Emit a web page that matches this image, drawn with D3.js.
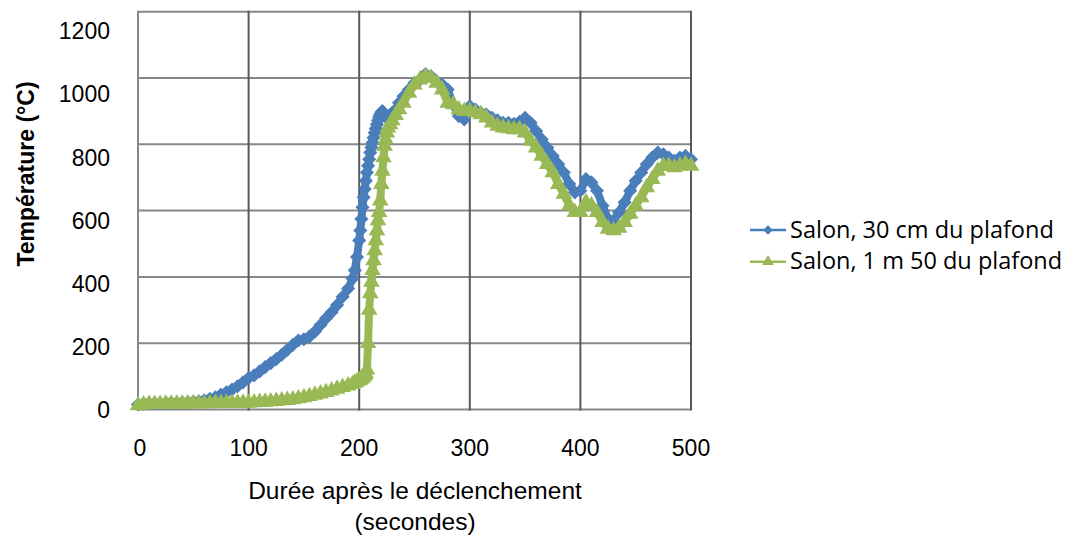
<!DOCTYPE html>
<html>
<head>
<meta charset="utf-8">
<script src="https://cdn.jsdelivr.net/npm/d3@7"></script>
<style>
  body { margin: 0; background: #fff; }
  text { font-family: "Liberation Sans", Arial, sans-serif; fill: #000; }
</style>
</head>
<body>
<svg></svg>
<script>
// Time samples (seconds)
const times = [
    0, 5, 10, 15, 20, 25, 30, 35, 40, 45, 50, 55, 60, 65, 70, 75, 80, 85, 90, 95,
    100, 105, 110, 115, 120, 125, 130, 135, 140, 145, 150, 155, 160, 165, 170, 175, 180, 185, 190,
    194, 196, 198, 200,
    201, 202, 203, 204, 205, 206, 207, 208, 209, 210, 211, 212, 213, 214, 215, 216, 217, 218, 219, 220,
    221, 222, 223, 224, 225, 226,
    228, 230, 233, 236,
    240, 245, 250, 255, 260, 265, 270, 275, 280, 285, 290, 295, 300, 305, 310, 315, 320, 325, 330, 335,
    340, 345, 350, 355, 360, 365, 370, 375, 380, 385, 390, 395, 400, 405, 410, 415, 420, 425, 430, 435,
    440, 445, 450, 455, 460, 465, 470, 475, 480, 485, 490, 495, 500
];

// Salon, 30 cm du plafond (°C)
const salon30 = [
    15, 18, 19, 19, 19, 20, 20, 20, 21, 22, 23, 25, 28, 32, 37, 45, 52, 60, 70, 82,
    95, 103, 115, 128, 140, 152, 165, 180, 195, 208, 212, 220, 235, 255, 275, 293, 315, 340, 365,
    395, 420, 460, 510,
    540, 575, 610, 640, 665, 690, 715, 735, 755, 775, 790, 805, 820, 835, 848, 860, 872, 882, 890, 897,
    900, 895, 888, 882, 885, 880,
    888, 895, 905, 925,
    945, 965, 985, 995, 1012, 1005, 990, 980, 965, 920, 885, 875, 915, 905, 895, 890, 880, 872, 865, 865,
    862, 868, 880, 865, 840, 815, 790, 765, 740, 715, 680, 655, 660, 695, 685, 660, 615, 575, 570, 595,
    625, 660, 690, 715, 740, 760, 775, 770, 760, 750, 760, 765, 755
];

// Salon, 1 m 50 du plafond (°C)
const salon150 = [
    12, 15, 16, 16, 16, 17, 17, 17, 17, 18, 18, 18, 18, 18, 19, 19, 19, 19, 20, 20,
    20, 21, 22, 23, 24, 25, 27, 28, 30, 33, 36, 40, 44, 48, 52, 57, 62, 67, 72,
    76, 80, 84, 88,
    90, 93, 96, 99, 103, 108, 120, 200, 300, 350, 385, 420, 450, 480, 510, 540, 570, 595, 630, 680,
    720, 760, 795, 815, 835, 850,
    860, 872, 888, 905,
    925, 955, 980, 995, 1005, 1000, 985, 965, 925, 920, 905, 900, 900, 895, 890, 880, 865, 855, 850, 848,
    845, 845, 835, 810, 790, 765, 740, 715, 680, 650, 615, 595, 595, 625, 615, 595, 565, 545, 540, 548,
    565, 590, 615, 640, 670, 695, 720, 735, 735, 730, 735, 740, 735
];

const xTicks = [0, 100, 200, 300, 400, 500];
const yTicks = [0, 200, 400, 600, 800, 1000, 1200];
const seriesNames = ["Salon, 30 cm du plafond", "Salon, 1 m 50 du plafond"];

const width = 1070, height = 541;
const plot = { left: 138, right: 691, top: 11.7, bottom: 409.5 };

const svg = d3.select("svg").attr("width", width).attr("height", height);

const x = d3.scaleLinear().domain([0, 500]).range([plot.left, plot.right]);
const y = d3.scaleLinear().domain([0, 1200]).range([plot.bottom, plot.top]);
// value labels on the y axis sit on a slightly compressed spacing in the original
const yLabel = d3.scaleLinear().domain([0, 1200]).range([410, 31]);

// horizontal gridlines (lighter)
svg.append("g").selectAll("line")
    .data(yTicks)
    .enter().append("line")
    .attr("x1", plot.left).attr("x2", plot.right)
    .attr("y1", d => y(d)).attr("y2", d => y(d))
    .attr("stroke", "#878787").attr("stroke-width", 2);

// vertical gridlines (darker), left edge lighter
svg.append("g").selectAll("line")
    .data(xTicks)
    .enter().append("line")
    .attr("x1", d => x(d)).attr("x2", d => x(d))
    .attr("y1", plot.top - 1).attr("y2", plot.bottom + 1)
    .attr("stroke", d => d === 0 ? "#878787" : "#595959")
    .attr("stroke-width", 2);

// tick labels
svg.append("g").selectAll("text")
    .data(yTicks)
    .enter().append("text")
    .attr("x", 110).attr("y", d => yLabel(d))
    .attr("dy", "0.36em")
    .attr("text-anchor", "end")
    .style("font-size", "23px")
    .text(d => d);

svg.append("g").selectAll("text")
    .data(xTicks)
    .enter().append("text")
    .attr("x", d => x(d) + (d === 0 ? 2 : 0)).attr("y", 448)
    .attr("dy", "0.36em")
    .attr("text-anchor", "middle")
    .style("font-size", "23px")
    .text(d => d);

// axis titles
svg.append("text")
    .attr("transform", "translate(34,174) rotate(-90)")
    .attr("text-anchor", "middle")
    .style("font-size", "23px").style("font-weight", "bold")
    .text("Température (°C)");

svg.append("text")
    .attr("x", 415).attr("y", 499)
    .attr("text-anchor", "middle")
    .style("font-size", "24.5px")
    .text("Durée après le déclenchement");

svg.append("text")
    .attr("x", 415).attr("y", 530)
    .attr("text-anchor", "middle")
    .style("font-size", "24.5px")
    .text("(secondes)");

// series
const blue = "#4a7ebb", green = "#98b954";
const data30 = times.map((t, i) => ({ t: t, v: salon30[i] }));
const data150 = times.map((t, i) => ({ t: t, v: salon150[i] }));

const line = d3.line().x(d => x(d.t)).y(d => y(d.v));
const diamond = d3.symbol().type(d3.symbolSquare).size(100);
const triangle = d3.symbol().type(d3.symbolTriangle).size(120);

function drawSeries(data, color, shape, rotate) {
    svg.append("path")
        .datum(data)
        .attr("d", line)
        .attr("fill", "none")
        .attr("stroke", color)
        .attr("stroke-width", 8)
        .attr("stroke-linejoin", "round");
    svg.append("g").selectAll("path")
        .data(data)
        .enter().append("path")
        .attr("d", shape())
        .attr("transform", d => `translate(${x(d.t)},${y(d.v)}) rotate(${rotate})`)
        .attr("fill", color);
}

drawSeries(data30, blue, diamond, 45);
drawSeries(data150, green, triangle, 0);

// legend
const legend = svg.append("g");
const legendItems = [
    { name: seriesNames[0], color: blue, shape: d3.symbol().type(d3.symbolSquare).size(46), rotate: 45 },
    { name: seriesNames[1], color: green, shape: d3.symbol().type(d3.symbolTriangle).size(60), rotate: 0 }
];
legendItems.forEach((d, i) => {
    const ly = 230 + i * 31.7;
    legend.append("line")
        .attr("x1", 750).attr("x2", 786)
        .attr("y1", ly).attr("y2", ly)
        .attr("stroke", d.color).attr("stroke-width", 2.5);
    legend.append("path")
        .attr("d", d.shape())
        .attr("transform", `translate(768,${ly}) rotate(${d.rotate})`)
        .attr("fill", d.color);
    legend.append("text")
        .attr("x", 790).attr("y", ly + 7.5)
        .style("font-family", "'Open Sans', sans-serif")
        .style("font-size", "23.5px")
        .text(d.name);
});
</script>
</body>
</html>
